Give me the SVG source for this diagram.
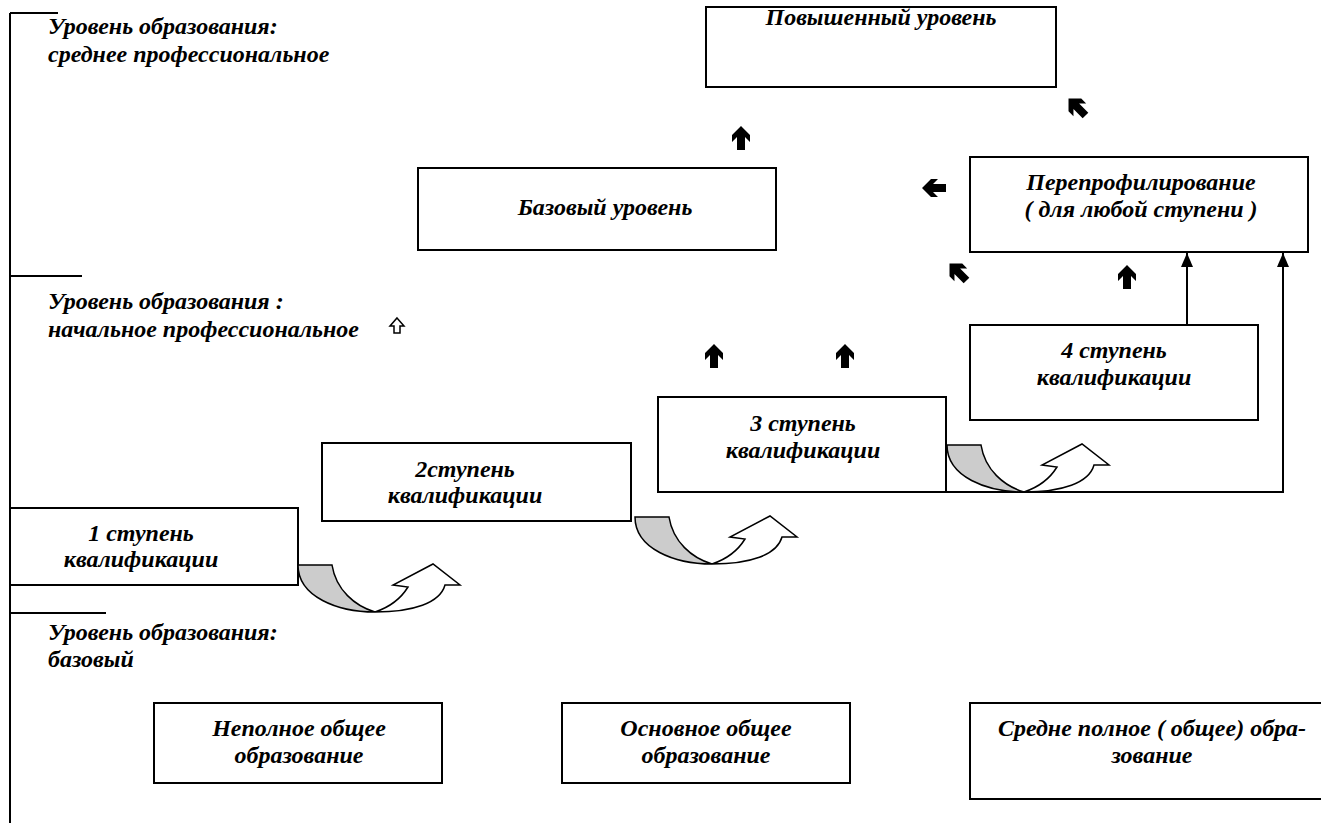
<svg xmlns="http://www.w3.org/2000/svg" width="1321" height="823" viewBox="0 0 1321 823">
<style>
.box{fill:#fff;stroke:#000;stroke-width:2}
.t{font-family:"Liberation Serif","Times New Roman",serif;font-weight:bold;font-style:italic;font-size:24px;fill:#000}
.c{text-anchor:middle}
.ln{stroke:#000;stroke-width:2;fill:none}
.blk{fill:#000}
.gray{fill:#ccc;stroke:#000;stroke-width:1.5}
.wht{fill:#fff;stroke:#000;stroke-width:1.5}
</style>
<defs>
<marker id="ah" markerWidth="14" markerHeight="12" refX="14" refY="6" orient="auto" markerUnits="userSpaceOnUse" viewBox="0 0 14 12">
<path d="M0,0 L14,6 L0,12 Z" fill="#000"/>
</marker>
<path id="bup" d="M0,-12 L9,-3 L9,4 L4,-1 L4,12 L-4,12 L-4,-1 L-9,4 L-9,-3 Z"/>
<g id="uturn">
<path class="gray" d="M0,0 L34,0 C38,25 57,41 77,47 C40,47 0,32 0,0 Z"/>
<path class="wht" d="M77,47 C115,47 142,38 147,20 L162,20 L135,-1 L95,20 L110,22 C102,35 92,42 77,47 Z"/>
</g>
</defs>
<rect width="1321" height="823" fill="#fff"/>

<g id="levels">
<path class="ln" d="M10,13 V823 M10,13 H58 M10,276 H82 M10,613 H106"/>
<text class="t" x="48" y="34">Уровень образования:</text>
<text class="t" x="48" y="62">среднее профессиональное</text>
<text class="t" x="48" y="309">Уровень образования :</text>
<text class="t" x="48" y="337">начальное профессиональное</text>
<text class="t" x="48" y="640">Уровень образования:</text>
<text class="t" x="48" y="667">базовый</text>
<path d="M397,318 L404,326 L400,326 L400,333 L394,333 L394,326 L390,326 Z" fill="#fff" stroke="#000" stroke-width="1.5"/>
</g>

<g id="n-povysh">
<rect class="box" x="706" y="7" width="350" height="80"/>
<text class="t c" x="881" y="25">Повышенный уровень</text>
</g>
<g id="n-bazovy">
<rect class="box" x="418" y="168" width="358" height="82"/>
<text class="t c" x="605" y="215">Базовый уровень</text>
</g>
<g id="n-pereprof">
<rect class="box" x="970" y="157" width="338" height="95"/>
<text class="t c" x="1141" y="190">Перепрофилирование</text>
<text class="t c" x="1141" y="217">( для любой ступени )</text>
</g>
<g id="n-st4">
<rect class="box" x="970" y="325" width="288" height="95"/>
<text class="t c" x="1114" y="358">4 ступень</text>
<text class="t c" x="1114" y="385">квалификации</text>
</g>
<g id="n-st3">
<rect class="box" x="658" y="397" width="288" height="95"/>
<text class="t c" x="803" y="431">3 ступень</text>
<text class="t c" x="803" y="458">квалификации</text>
</g>
<g id="n-st2">
<rect class="box" x="322" y="443" width="309" height="78"/>
<text class="t c" x="465" y="477">2ступень</text>
<text class="t c" x="465" y="503">квалификации</text>
</g>
<g id="n-st1">
<rect class="box" x="10" y="508" width="288" height="77"/>
<text class="t c" x="141" y="541">1 ступень</text>
<text class="t c" x="141" y="567">квалификации</text>
</g>
<g id="n-nepoln">
<rect class="box" x="154" y="703" width="288" height="80"/>
<text class="t c" x="299" y="736">Неполное общее</text>
<text class="t c" x="299" y="763">образование</text>
</g>
<g id="n-osnov">
<rect class="box" x="562" y="703" width="288" height="80"/>
<text class="t c" x="706" y="736">Основное общее</text>
<text class="t c" x="706" y="763">образование</text>
</g>
<g id="n-sredne">
<rect class="box" x="970" y="703" width="366" height="96"/>
<text class="t c" x="1152" y="736">Средне полное ( общее) обра-</text>
<text class="t c" x="1152" y="763">зование</text>
</g>

<g id="connectors">
<path class="ln" d="M1187,325 V253" marker-end="url(#ah)"/>
<path class="ln" d="M946,492 H1283 V253" marker-end="url(#ah)"/>
<use href="#uturn" transform="translate(298,565)"/>
<use href="#uturn" transform="translate(635,517)"/>
<use href="#uturn" transform="translate(947,445)"/>
<use href="#bup" class="blk" transform="translate(741,138)"/>
<use href="#bup" class="blk" transform="translate(714,356)"/>
<use href="#bup" class="blk" transform="translate(845,356)"/>
<use href="#bup" class="blk" transform="translate(1127,277)"/>
<use href="#bup" class="blk" transform="translate(958,272) rotate(-45)"/>
<use href="#bup" class="blk" transform="translate(1077,107) rotate(-45)"/>
<use href="#bup" class="blk" transform="translate(934,188) rotate(-90)"/>
</g>
</svg>
